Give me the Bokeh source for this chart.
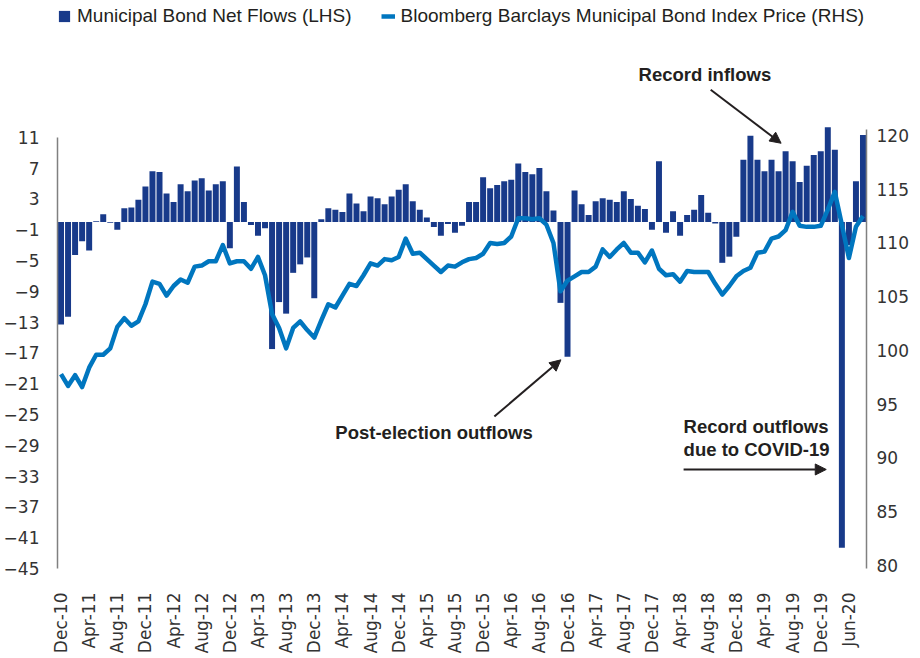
from math import pi
from bokeh.plotting import figure
from bokeh.models import (Range1d, LinearAxis, FixedTicker, Legend, LegendItem,
                          Label, Arrow, NormalHead)
from bokeh.embed import file_html
from bokeh.resources import INLINE

# ---------------- data (monthly, Dec-10 .. Jun-20) ----------------
net_flows = [
    -13.3, -12.3, -4.3, -2.5, -3.7, 0.1, 1.0, -0.1, -1.0, 1.8,
    1.9, 2.9, 4.6, 6.6, 6.5, 3.7, 2.6, 4.9, 4.0, 5.4,
    5.7, 4.1, 4.9, 5.3, -3.4, 7.2, 2.6, -0.4, -1.8, -0.8,
    -16.5, -10.4, -11.9, -6.6, -5.5, -4.6, -9.9, 0.35, 1.8, 1.6,
    1.3, 3.7, 2.4, 1.4, 3.3, 3.1, 2.3, 3.3, 4.2, 4.9,
    2.7, 1.6, 0.6, -0.65, -1.8, -0.26, -1.4, -0.5, 2.6, 2.6,
    5.8, 4.4, 4.8, 5.3, 5.5, 7.6, 6.5, 6.2, 7.0, 4.0,
    1.5, -10.5, -17.5, 4.1, 2.3, 0.9, 2.7, 3.1, 2.9, 2.6,
    4.0, 3.0, 2.1, 1.7, -1.0, 7.9, -1.4, 1.4, -1.8, 0.9,
    1.6, 3.5, 1.2, -0.2, -5.3, -4.5, -1.9, 8.1, 11.2, 8.1,
    6.6, 8.1, 6.6, 9.2, 7.9, 5.2, 7.3, 8.7, 9.2, 12.3,
    9.4, -42.3, -3.0, 5.3, 11.3,
]

index_price = [
    97.8, 96.7, 97.7, 96.6, 98.4, 99.6, 99.6, 100.2, 102.2, 103.0,
    102.3, 102.7, 104.3, 106.4, 106.2, 105.1, 106.0, 106.6, 106.3, 107.8,
    107.9, 108.3, 108.3, 109.8, 108.1, 108.3, 108.3, 107.6, 108.7, 107.0,
    103.4, 102.1, 100.2, 102.1, 102.7, 101.9, 101.2, 102.8, 104.3, 104.0,
    105.1, 106.2, 106.0, 107.0, 108.1, 107.9, 108.5, 108.4, 108.7, 110.4,
    109.0, 109.1, 108.5, 107.9, 107.3, 107.9, 107.8, 108.2, 108.5, 108.6,
    109.0, 110.0, 109.9, 110.0, 110.6, 112.3, 112.3, 112.2, 112.3, 111.7,
    110.0, 105.5, 106.5, 106.9, 107.3, 107.3, 107.8, 109.4, 108.7, 109.4,
    110.0, 109.1, 109.1, 108.2, 109.3, 107.6, 107.0, 107.1, 106.4, 107.4,
    107.3, 107.3, 107.3, 106.2, 105.2, 106.0, 106.9, 107.4, 107.7, 109.1,
    109.2, 110.4, 110.6, 111.2, 112.9, 111.6, 111.5, 111.5, 111.6, 113.1,
    114.75, 111.7, 108.6, 111.5, 112.5,
]

tick_labels = [
    "Dec-10", "Apr-11", "Aug-11", "Dec-11", "Apr-12", "Aug-12", "Dec-12",
    "Apr-13", "Aug-13", "Dec-13", "Apr-14", "Aug-14", "Dec-14", "Apr-15",
    "Aug-15", "Dec-15", "Apr-16", "Aug-16", "Dec-16", "Apr-17", "Aug-17",
    "Dec-17", "Apr-18", "Aug-18", "Dec-18", "Apr-19", "Aug-19", "Dec-19",
    "Jun-20",
]
label_step = 4

left_ticks = list(range(-45, 12, 4))
right_ticks = list(range(80, 121, 5))

BAR_COLOR = "#183A8A"
LINE_COLOR = "#0076BF"
TEXT_COLOR = "#231F20"
AXIS_COLOR = "#808080"

x = list(range(len(net_flows)))

p = figure(width=920, height=658, output_backend="svg", toolbar_location=None,
           title=None,
           x_range=Range1d(-0.5, len(net_flows) - 0.5),
           y_range=Range1d(-45, 28.12),
           min_border_left=56, min_border_right=54,
           min_border_top=5, min_border_bottom=90)
p.extra_y_ranges = {"price": Range1d(79.72, 132.09)}
p.outline_line_color = None
p.xgrid.visible = False
p.ygrid.visible = False
p.background_fill_color = "white"
p.border_fill_color = "white"

bars = p.vbar(x=x, top=net_flows, bottom=0, width=0.85,
              fill_color=BAR_COLOR, line_color=None)
line = p.line(x=x, y=index_price, y_range_name="price",
              line_color=LINE_COLOR, line_width=4.5, line_join="round")

# left axis
yl = p.yaxis[0]
yl.ticker = FixedTicker(ticks=left_ticks)
yl.bounds = (left_ticks[0], left_ticks[-1])

# right axis
yr = LinearAxis(y_range_name="price", ticker=FixedTicker(ticks=right_ticks),
                bounds=(79.72, 120.6))
p.add_layout(yr, "right")

for ax in (yl, yr):
    ax.axis_line_color = AXIS_COLOR
    ax.axis_line_width = 1.5
    ax.major_tick_line_color = None
    ax.minor_tick_line_color = None
    ax.major_label_text_font = "DejaVu Sans"
    ax.major_label_text_font_size = "17px"
    ax.major_label_text_color = "#333333"
yl.major_label_standoff = 12
yr.major_label_standoff = 4

# bottom axis
xa = p.xaxis[0]
tick_pos = [i * label_step for i in range(len(tick_labels))]
xa.ticker = FixedTicker(ticks=tick_pos)
xa.major_label_overrides = {t: lab for t, lab in zip(tick_pos, tick_labels)}
xa.major_label_orientation = pi / 2
xa.axis_line_color = None
xa.major_tick_line_color = None
xa.minor_tick_line_color = None
xa.major_tick_out = 0
xa.major_label_standoff = 24
xa.major_label_text_font = "DejaVu Sans"
xa.major_label_text_font_size = "17px"
xa.major_label_text_color = "#333333"

# legend
legend = Legend(items=[
    LegendItem(label="Municipal Bond Net Flows (LHS)", renderers=[bars]),
    LegendItem(label="Bloomberg Barclays Municipal Bond Index Price (RHS)", renderers=[line]),
], location="top_left", orientation="horizontal", margin=0, padding=4,
    spacing=29, glyph_width=14, glyph_height=14, label_standoff=6,
    label_text_font="Liberation Sans", label_text_font_size="19px",
    label_text_color=TEXT_COLOR, border_line_color=None,
    background_fill_alpha=0)
p.add_layout(legend)

# annotations
def note(xv, yv, txt):
    p.add_layout(Label(x=xv, y=yv, text=txt, text_font="Liberation Sans",
                       text_font_style="bold", text_font_size="18.5px",
                       text_color=TEXT_COLOR, text_baseline="middle",
                       text_align="left"))

def arrow(x0, y0, x1, y1):
    p.add_layout(Arrow(end=NormalHead(size=11, fill_color=TEXT_COLOR,
                                      line_color=TEXT_COLOR),
                       x_start=x0, y_start=y0, x_end=x1, y_end=y1,
                       line_color=TEXT_COLOR, line_width=2))

note(82.1, 19.16, "Record inflows")
arrow(92.35, 17.17, 102.36, 10.23)

note(39.0, -27.3, "Post-election outflows")
arrow(61.6, -25.26, 71.06, -17.9)

note(88.5, -26.56, "Record outflows")
note(88.5, -29.58, "due to COVID-19")
arrow(88.5, -32.14, 108.78, -32.14)

open("out.html", "w").write(file_html(p, INLINE))
